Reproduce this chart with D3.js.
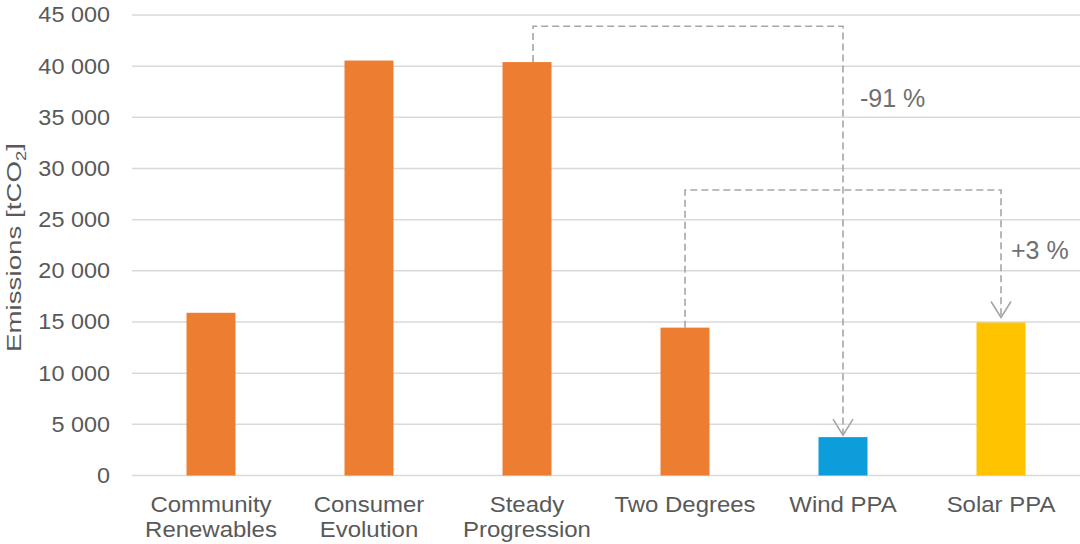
<!DOCTYPE html>
<html>
<head>
<meta charset="utf-8">
<script src="https://cdn.jsdelivr.net/npm/d3@7"></script>
<style>
  html, body { margin: 0; padding: 0; background: #fff; }
  svg { display: block; font-family: "Liberation Sans", Arial, sans-serif; }
</style>
</head>
<body>
<svg id="chart" width="1080" height="544"></svg>
<script>
// ---- data ----
const categories = ["Community Renewables", "Consumer Evolution", "Steady Progression", "Two Degrees", "Wind PPA", "Solar PPA"];
const labelLines = [["Community", "Renewables"], ["Consumer", "Evolution"], ["Steady", "Progression"], ["Two Degrees"], ["Wind PPA"], ["Solar PPA"]];
const emissions = [15900, 40550, 40400, 14450, 3750, 14950];
const barColors = ["#ED7D31", "#ED7D31", "#ED7D31", "#ED7D31", "#0E9DDB", "#FFC300"];
const yTicks = [0, 5000, 10000, 15000, 20000, 25000, 30000, 35000, 40000, 45000];
// connectors: from category, to category, level of horizontal segment, label
const connFrom = ["Steady Progression", "Two Degrees"];
const connTo = ["Wind PPA", "Solar PPA"];
const connLevel = [43900, 27900];
const connLabels = ["-91 %", "+3 %"];

// ---- layout ----
const svg = d3.select("#chart");
const x = d3.scaleBand().domain(categories).range([132, 1080]).paddingInner(0.69).paddingOuter(0.345);
const y = d3.scaleLinear().domain([0, 45000]).range([475.5, 15]);
const textColor = "#595959";
const fmt = v => d3.format(",")(v).replace(/,/g, "\u00a0");

// gridlines
svg.append("g").selectAll("line").data(yTicks).join("line")
  .attr("x1", 132).attr("x2", 1080)
  .attr("y1", d => y(d)).attr("y2", d => y(d))
  .attr("stroke", "#d9d9d9").attr("stroke-width", 1.5);

// y axis labels
const yAxis = d3.axisLeft(y).tickValues(yTicks).tickFormat(fmt).tickSize(0).tickPadding(0);
const ya = svg.append("g").attr("transform", "translate(110,0)").call(yAxis);
ya.select(".domain").remove();
ya.selectAll("text").attr("font-size", 21.5).attr("fill", textColor)
  .attr("font-family", "Liberation Sans, Arial, sans-serif")
  .attr("transform", "scale(1.09,1)");

// y axis title
const yt = svg.append("text")
  .attr("transform", "translate(21,247.5) rotate(-90) scale(1.32,1)")
  .attr("text-anchor", "middle")
  .attr("font-size", 21).attr("fill", textColor);
yt.append("tspan").text("Emissions [tCO");
yt.append("tspan").text("2").attr("font-size", 14).attr("dy", 5);
yt.append("tspan").text("]").attr("dy", -5);

// bars
svg.append("g").selectAll("rect").data(categories).join("rect")
  .attr("x", d => x(d))
  .attr("width", x.bandwidth())
  .attr("y", (d, i) => y(emissions[i]))
  .attr("height", (d, i) => y(0) - y(emissions[i]))
  .attr("fill", (d, i) => barColors[i]);

// x labels
const xl = svg.append("g").selectAll("g").data(categories).join("g")
  .attr("transform", d => `translate(${x(d) + x.bandwidth() / 2},512) scale(1.065,1)`);
xl.each(function(d, i) {
  const t = d3.select(this).append("text")
    .attr("text-anchor", "middle")
    .attr("font-size", 22.5).attr("fill", textColor);
  labelLines[i].forEach((ln, k) => {
    t.append("tspan").attr("x", 0).attr("dy", k === 0 ? 0 : 25.5).text(ln);
  });
});

// connectors
const connOffset = [6, 0];
const tipGap = [2, 5];
const labelDx = [17, 10];
const labelY = [107, 259];
const g = svg.append("g");
connFrom.forEach((from, i) => {
  const to = connTo[i];
  const fromIdx = categories.indexOf(from);
  const toIdx = categories.indexOf(to);
  const x0 = x(from) + x.bandwidth() / 2 + connOffset[i];
  const x1 = x(to) + x.bandwidth() / 2;
  const y0 = y(emissions[fromIdx]);
  const yl = y(connLevel[i]);
  const y1 = y(emissions[toIdx]) - tipGap[i];
  g.append("path")
    .attr("d", `M${x0},${y0}V${yl}H${x1}V${y1}`)
    .attr("fill", "none").attr("stroke", "#a6a6a6").attr("stroke-width", 1.6)
    .attr("stroke-dasharray", "7,4");
  g.append("path")
    .attr("d", `M${x1 - 10},${y1 - 16}L${x1},${y1}L${x1 + 10},${y1 - 16}`)
    .attr("fill", "none").attr("stroke", "#a6a6a6").attr("stroke-width", 1.6);
  g.append("text")
    .attr("x", x1 + labelDx[i])
    .attr("y", labelY[i])
    .attr("font-size", 25).attr("fill", "#6f6f6f")
    .text(connLabels[i]);
});
</script>
</body>
</html>
